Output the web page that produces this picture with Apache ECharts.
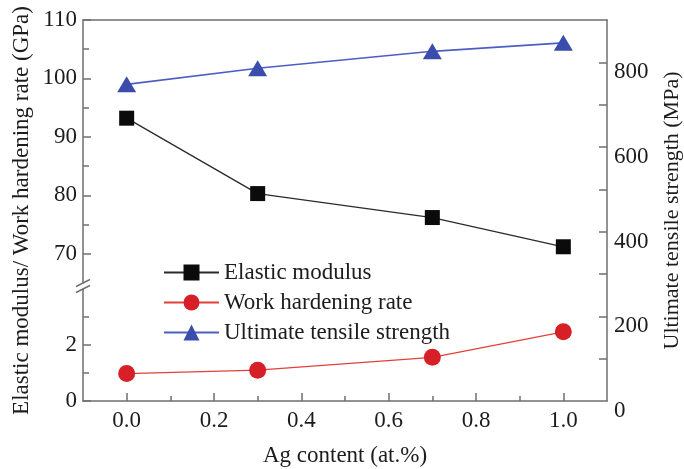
<!DOCTYPE html>
<html>
<head>
<meta charset="utf-8">
<script src="https://cdn.jsdelivr.net/npm/echarts@6/dist/echarts.min.js"></script>
<style>
html,body{margin:0;padding:0;background:#fff;}
#chart{width:684px;height:469px;}
</style>
</head>
<body>
<div id="chart"></div>
<script>
// Ag content of each alloy (at.%)
const agContent = [0.0, 0.3, 0.7, 1.0];
// Elastic modulus (GPa)
const elasticModulus = [93.2, 80.3, 76.2, 71.2];
// Work hardening rate (GPa)
const workHardening = [0.98, 1.1, 1.56, 2.47];
// Ultimate tensile strength (MPa)
const tensileStrength = [748, 786, 826, 846];

const seriesNames = ['Elastic modulus', 'Work hardening rate', 'Ultimate tensile strength'];

// Tick positions and labels
const xMajorTicks = [0, 0.2, 0.4, 0.6, 0.8, 1.0];
const xMinorTicks = [0.1, 0.3, 0.5, 0.7, 0.9];
const upperMajorTicks = [70, 80, 90, 100, 110];
const upperMinorTicks = [75, 85, 95, 105];
const lowerMajorTicks = [0, 2];
const lowerMinorTicks = [1, 3];
const rightTicks = [100, 200, 300, 400, 500, 600, 700, 800];
const rightLabels = [0, 200, 400, 600, 800];

const FONT = 'Liberation Serif';
const AXIS_COLOR = '#6f6f6f';
const TEXT_COLOR = '#1c1c1c';
const X_MIN = -0.1, X_MAX = 1.1;

const lineOf = () => ({ show: true, onZero: false, lineStyle: { color: AXIS_COLOR, width: 1.5 } });
const noLine = () => ({ show: false, onZero: false });
const ticksAt = (values, length) => ({
  show: true, inside: true, length: length, customValues: values,
  lineStyle: { color: AXIS_COLOR, width: 1.5 }
});
const labelStyle = () => ({ color: TEXT_COLOR, fontFamily: FONT, fontSize: 23 });
const nameStyle = (size) => ({ color: TEXT_COLOR, fontFamily: FONT, fontSize: size });

const pairs = (ys) => agContent.map((x, i) => [x, ys[i]]);

const chart = echarts.init(document.getElementById('chart'), null, { renderer: 'canvas' });

chart.setOption({
  backgroundColor: '#ffffff',
  animation: false,
  grid: [
    // full frame: bottom axis, top border, right axis
    { left: 83, right: 77, top: 20, height: 381, outerBoundsMode: 'none' },
    // upper part of the broken left axis
    { left: 83, right: 77, top: 20, height: 263, outerBoundsMode: 'none' },
    // lower part of the broken left axis
    { left: 83, right: 77, top: 289, height: 112, outerBoundsMode: 'none' }
  ],
  xAxis: [
    {
      gridIndex: 0, type: 'value', position: 'bottom', min: X_MIN, max: X_MAX,
      axisLine: lineOf(),
      axisTick: ticksAt(xMajorTicks, 8),
      axisLabel: Object.assign({ customValues: xMajorTicks, margin: 8, formatter: (v) => v.toFixed(1) }, labelStyle()),
      splitLine: { show: false },
      name: 'Ag content (at.%)', nameLocation: 'middle', nameGap: 43, nameTextStyle: nameStyle(23)
    },
    {
      gridIndex: 0, type: 'value', position: 'bottom', min: X_MIN, max: X_MAX,
      axisLine: noLine(), axisTick: ticksAt(xMinorTicks, 5),
      axisLabel: { show: false }, splitLine: { show: false }
    },
    {
      gridIndex: 0, type: 'value', position: 'top', min: X_MIN, max: X_MAX,
      axisLine: lineOf(), axisTick: { show: false }, axisLabel: { show: false }, splitLine: { show: false }
    },
    { gridIndex: 1, type: 'value', min: X_MIN, max: X_MAX, show: false },
    { gridIndex: 2, type: 'value', min: X_MIN, max: X_MAX, show: false }
  ],
  yAxis: [
    {
      gridIndex: 1, type: 'value', position: 'left', min: 65, max: 110,
      axisLine: lineOf(), axisTick: ticksAt(upperMajorTicks, 8),
      axisLabel: Object.assign({ customValues: upperMajorTicks, margin: 6 }, labelStyle()),
      splitLine: { show: false }
    },
    {
      gridIndex: 1, type: 'value', position: 'left', min: 65, max: 110,
      axisLine: noLine(), axisTick: ticksAt(upperMinorTicks, 6),
      axisLabel: { show: false }, splitLine: { show: false }
    },
    {
      gridIndex: 2, type: 'value', position: 'left', min: 0, max: 4,
      axisLine: lineOf(), axisTick: ticksAt(lowerMajorTicks, 8),
      axisLabel: Object.assign({ customValues: lowerMajorTicks, margin: 6 }, labelStyle()),
      splitLine: { show: false }
    },
    {
      gridIndex: 2, type: 'value', position: 'left', min: 0, max: 4,
      axisLine: noLine(), axisTick: ticksAt(lowerMinorTicks, 6),
      axisLabel: { show: false }, splitLine: { show: false }
    },
    {
      gridIndex: 0, type: 'value', position: 'right', min: 0, max: 900,
      axisLine: lineOf(), axisTick: ticksAt(rightTicks, 8),
      axisLabel: Object.assign({ customValues: rightLabels, margin: 7, verticalAlign: 'top', lineHeight: 20 }, labelStyle()),
      splitLine: { show: false },
      name: 'Ultimate tensile strength (MPa)', nameLocation: 'middle', nameRotate: 90, nameGap: 54,
      nameTextStyle: nameStyle(22)
    },
    {
      // carries the title of the broken left axis across both parts
      gridIndex: 0, type: 'value', position: 'left', min: 0, max: 1,
      axisLine: noLine(), axisTick: { show: false }, axisLabel: { show: false }, splitLine: { show: false },
      name: 'Elastic modulus/ Work hardening rate (GPa)', nameLocation: 'middle', nameRotate: 90, nameGap: 50,
      nameTextStyle: nameStyle(23)
    }
  ],
  legend: {
    orient: 'vertical', left: 158, top: 256,
    itemWidth: 55, itemHeight: 20, itemGap: 7,
    data: seriesNames,
    textStyle: { color: TEXT_COLOR, fontFamily: FONT, fontSize: 23 }
  },
  series: [
    {
      name: seriesNames[0], type: 'line', xAxisIndex: 3, yAxisIndex: 0,
      data: pairs(elasticModulus),
      symbol: 'rect', symbolSize: 15,
      itemStyle: { color: '#0b0b0b' },
      lineStyle: { color: '#2b2b2b', width: 1.3 }
    },
    {
      name: seriesNames[1], type: 'line', xAxisIndex: 4, yAxisIndex: 2,
      data: pairs(workHardening),
      symbol: 'circle', symbolSize: 17,
      itemStyle: { color: '#d61f26' },
      lineStyle: { color: '#e2413b', width: 1.3 }
    },
    {
      name: seriesNames[2], type: 'line', xAxisIndex: 0, yAxisIndex: 4,
      data: pairs(tensileStrength),
      symbol: 'triangle', symbolSize: [19, 16],
      itemStyle: { color: '#3b4dab' },
      lineStyle: { color: '#4c5ec4', width: 1.6 }
    }
  ]
});

// Break marks on the left axis, placed where the two parts meet
const xLeft = chart.convertToPixel({ xAxisIndex: 0 }, X_MIN);
const yBreakTop = chart.convertToPixel({ yAxisIndex: 0 }, 65);
const yBreakBottom = chart.convertToPixel({ yAxisIndex: 2 }, 4);
const slash = (y) => ({
  type: 'line', z: 100,
  shape: { x1: xLeft - 7, y1: y + 3.5, x2: xLeft + 7, y2: y - 3.5 },
  style: { stroke: AXIS_COLOR, lineWidth: 1.5 }
});
chart.setOption({ graphic: [slash(yBreakTop), slash(yBreakBottom)] });
</script>
</body>
</html>
